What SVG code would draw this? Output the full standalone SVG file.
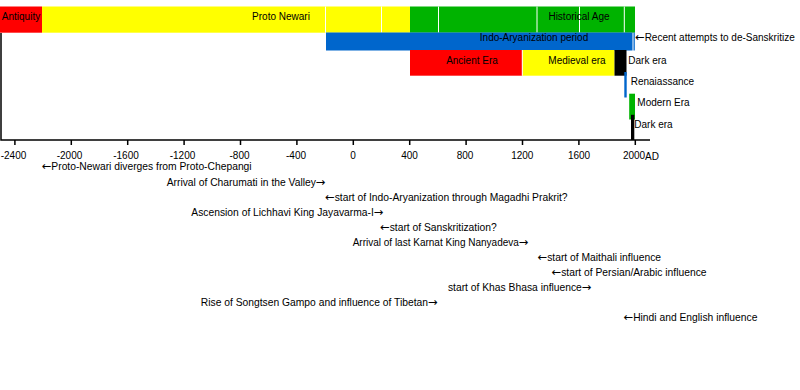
<svg xmlns="http://www.w3.org/2000/svg" width="800" height="390" viewBox="0 0 800 390">
<style>
text{font-family:"Liberation Sans",Arial,sans-serif;font-size:10px;fill:#000}
#events text{font-size:10.3px}
#events text.n{font-size:10px}
.a{font-family:"DejaVu Sans",sans-serif;font-size:11.5px}
.m{text-anchor:middle}
.e{text-anchor:end}
.red{fill:#ff0000}.yel{fill:#ffff00}.grn{fill:#00b300}.blu{fill:#0066cc}.blk{fill:#000}
.sep{stroke:#fff;stroke-width:1}
.ax{stroke:#000;stroke-width:1.5;fill:none}
</style>
<rect width="800" height="390" fill="#fff"/>
<g id="axis">
<path class="ax" d="M1,33V140H650"/>
<path class="ax" d="M14.9,140v5M71.3,140v5M127.7,140v5M184.1,140v5M240.5,140v5M296.9,140v5M353.3,140v5M409.7,140v5M466.1,140v5M522.5,140v5M578.9,140v5M635.3,140v5"/>
<text class="m" x="13.5" y="159">-2400</text>
<text class="m" x="69.5" y="159">-2000</text>
<text class="m" x="126" y="159">-1600</text>
<text class="m" x="182.5" y="159">-1200</text>
<text class="m" x="239.5" y="159">-800</text>
<text class="m" x="296" y="159">-400</text>
<text class="m" x="353" y="159">0</text>
<text class="m" x="409.5" y="159">400</text>
<text class="m" x="465" y="159">800</text>
<text class="m" x="522.3" y="159">1200</text>
<text class="m" x="579" y="159">1600</text>
<text class="m" x="634" y="159">2000</text>
<text x="645" y="159.5">AD</text>
</g>
<g id="antiquity"><rect class="red" x="0" y="6.5" width="42" height="26.2"/><text class="m" x="21" y="20">Antiquity</text></g>
<g id="proto-newari"><rect class="yel" x="42" y="6.5" width="368" height="26.2"/><path class="sep" d="M325.5,6.5v26.2M381.5,6.5v26.2"/><text class="m" x="281" y="20">Proto Newari</text></g>
<g id="historical-age"><rect class="grn" x="410" y="6.5" width="225" height="26.2"/><path class="sep" d="M438.5,6.5v26.2M537,6.5v26.2M579.5,6.5v26.2M624.3,6.5v26.2"/><text class="m" x="579" y="20">Historical Age</text></g>
<g id="indo-aryanization"><rect class="blu" x="326" y="32.5" width="306.5" height="18"/><text class="m" x="534" y="40.8">Indo-Aryanization period</text></g>
<g id="recent"><rect class="blu" x="633.5" y="32.5" width="1.3" height="18"/><text x="635" y="40.8"><tspan class="a">←</tspan>Recent attempts to de-Sanskritize</text></g>
<g id="ancient-era"><rect class="red" x="410" y="50" width="112.3" height="25.7"/><text class="m" x="472" y="63.5">Ancient Era</text></g>
<g id="medieval-era"><rect class="yel" x="522.3" y="50" width="92.2" height="25.7"/><path class="sep" d="M522.3,50v25.7"/><text class="m" x="577" y="63.5">Medieval era</text></g>
<g id="dark-era-1"><rect class="blk" x="614.5" y="50" width="12" height="25.7"/><text x="628.3" y="63.8">Dark era</text></g>
<g id="renaissance"><rect class="blu" x="624.3" y="72" width="2.4" height="25.5"/><text x="630.7" y="85">Renaiassance</text></g>
<g id="modern-era"><rect class="grn" x="629.2" y="93.7" width="5.8" height="25.8"/><text x="637.3" y="106.3">Modern Era</text></g>
<g id="dark-era-2"><rect class="blk" x="631" y="114.8" width="3.3" height="25.2"/><text x="634.3" y="128">Dark era</text></g>
<g id="events">
<text x="41.7" y="170"><tspan class="a">←</tspan>Proto-Newari diverges from Proto-Chepangi</text>
<text class="e" x="325.5" y="185.5">Arrival of Charumati in the Valley<tspan class="a">→</tspan></text>
<text x="325" y="200.5"><tspan class="a">←</tspan>start of Indo-Aryanization through Magadhi Prakrit?</text>
<text class="e" x="383.5" y="216">Ascension of Lichhavi King Jayavarma-I<tspan class="a">→</tspan></text>
<text x="380" y="231"><tspan class="a">←</tspan>start of Sanskritization?</text>
<text class="e n" x="528.5" y="246">Arrival of last Karnat King Nanyadeva<tspan class="a">→</tspan></text>
<text x="537.5" y="261"><tspan class="a">←</tspan>start of Maithali influence</text>
<text x="551.5" y="276"><tspan class="a">←</tspan>start of Persian/Arabic influence</text>
<text class="e" x="591.5" y="291">start of Khas Bhasa influence<tspan class="a">→</tspan></text>
<text class="e" x="437.7" y="306">Rise of Songtsen Gampo and influence of Tibetan<tspan class="a">→</tspan></text>
<text x="623.5" y="321"><tspan class="a">←</tspan>Hindi and English influence</text>
</g>
</svg>
